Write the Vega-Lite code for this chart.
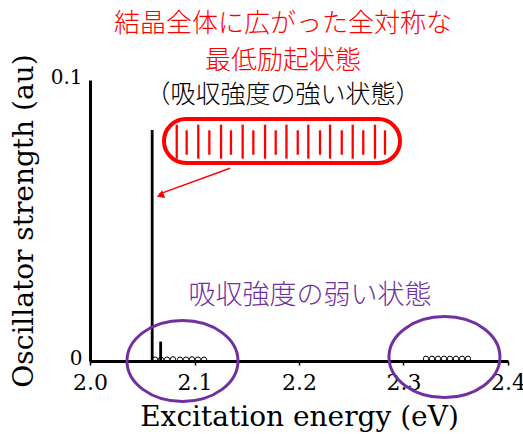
{
  "$schema": "https://vega.github.io/schema/vega-lite/v6.json",
  "width": 418,
  "height": 281,
  "autosize": {"type": "none"},
  "padding": {"left": 90, "top": 80, "right": 15, "bottom": 73},
  "background": "white",
  "config": {
    "view": {"stroke": null},
    "axis": {"grid": false, "domainColor": "black", "labelColor": "black", "titleColor": "black", "labelFont": "DejaVu Serif", "titleFont": "DejaVu Serif", "titleFontWeight": "normal"}
  },
  "datasets": {
    "sticks": [
      {"energy": 2.0595, "strength": 0.0822},
      {"energy": 2.0676, "strength": 0.0069}
    ],
    "weak": [
      {"energy": 2.0622, "strength": 0.0005},
      {"energy": 2.0679, "strength": 0.0005},
      {"energy": 2.0737, "strength": 0.0005},
      {"energy": 2.0794, "strength": 0.0006},
      {"energy": 2.0861, "strength": 0.0005},
      {"energy": 2.0919, "strength": 0.0005},
      {"energy": 2.0976, "strength": 0.0006},
      {"energy": 2.1033, "strength": 0.0005},
      {"energy": 2.1091, "strength": 0.0005},
      {"energy": 2.3215, "strength": 0.0008},
      {"energy": 2.3273, "strength": 0.0008},
      {"energy": 2.3330, "strength": 0.0008},
      {"energy": 2.3388, "strength": 0.0008},
      {"energy": 2.3445, "strength": 0.0008},
      {"energy": 2.3502, "strength": 0.0008},
      {"energy": 2.3560, "strength": 0.0008},
      {"energy": 2.3617, "strength": 0.0008}
    ],
    "capsule": [{"x1": 2.0708, "x2": 2.2967, "y1": 0.0705, "y2": 0.0861}],
    "longLines": [
      {"energy": 2.0830}, {"energy": 2.1036}, {"energy": 2.1254}, {"energy": 2.1461}, {"energy": 2.1675},
      {"energy": 2.1880}, {"energy": 2.2089}, {"energy": 2.2297}, {"energy": 2.2514}, {"energy": 2.2727}
    ],
    "shortLines": [
      {"energy": 2.0925}, {"energy": 2.1142}, {"energy": 2.1349}, {"energy": 2.1563}, {"energy": 2.1777},
      {"energy": 2.1988}, {"energy": 2.2201}, {"energy": 2.2409}, {"energy": 2.2615}, {"energy": 2.2823}
    ],
    "arrow": [{"x1": 2.1340, "y1": 0.0686, "x2": 2.0660, "y2": 0.0594}],
    "arrowHead": [{"energy": 2.0684, "strength": 0.0591}],
    "ellipses": [
      {"energy": 2.0885, "strength": 0.0},
      {"energy": 2.3392, "strength": 0.0014}
    ],
    "redText": [
      {"label": "結晶全体に広がった全対称な", "energy": 2.1847, "strength": 0.1198},
      {"label": "最低励起状態", "energy": 2.1847, "strength": 0.1068}
    ],
    "blackText": [
      {"label": "（吸収強度の強い状態）", "energy": 2.1847, "strength": 0.0945}
    ],
    "purpleText": [
      {"label": "吸収強度の弱い状態", "energy": 2.2105, "strength": 0.0231}
    ]
  },
  "layer": [
    {
      "data": {"name": "sticks"},
      "mark": {"type": "rule", "color": "black", "strokeWidth": 2.8},
      "encoding": {
        "x": {"field": "energy", "type": "quantitative", "scale": {"domain": [2.0, 2.4], "nice": false, "zero": false},
          "axis": {"values": [2.0, 2.1, 2.2, 2.3, 2.4], "format": ".1f", "title": "Excitation energy (eV)", "domainWidth": 3, "tickSize": 4, "tickWidth": 1.5, "tickColor": "black", "labelFontSize": 22, "labelPadding": 7, "titleFontSize": 28, "titlePadding": 10, "labelFlush": false}},
        "y": {"field": "strength", "type": "quantitative", "scale": {"domain": [0, 0.1], "nice": false},
          "axis": {"values": [0, 0.1], "labelExpr": "datum.value == 0 ? '0' : '0.1'", "title": "Oscillator strength (au)", "domainWidth": 3, "ticks": false, "labelFontSize": 20, "labelPadding": 8, "labelOffset": -3, "titleFontSize": 28, "titlePadding": 12, "labelFlush": false}},
        "y2": {"datum": 0}
      }
    },
    {
      "data": {"name": "weak"},
      "mark": {"type": "point", "shape": "circle", "filled": false, "color": "black", "size": 28, "strokeWidth": 1, "opacity": 1},
      "encoding": {
        "x": {"field": "energy", "type": "quantitative"},
        "y": {"field": "strength", "type": "quantitative"}
      }
    },
    {
      "data": {"name": "capsule"},
      "mark": {"type": "rect", "fill": null, "stroke": "#FF0000", "strokeWidth": 4, "cornerRadius": 22},
      "encoding": {
        "x": {"field": "x1", "type": "quantitative"},
        "x2": {"field": "x2"},
        "y": {"field": "y1", "type": "quantitative"},
        "y2": {"field": "y2"}
      }
    },
    {
      "data": {"name": "longLines"},
      "mark": {"type": "rule", "color": "#FF0000", "strokeWidth": 2.3},
      "encoding": {
        "x": {"field": "energy", "type": "quantitative"},
        "y": {"datum": 0.0720},
        "y2": {"datum": 0.0841}
      }
    },
    {
      "data": {"name": "shortLines"},
      "mark": {"type": "rule", "color": "#FF0000", "strokeWidth": 2.3},
      "encoding": {
        "x": {"field": "energy", "type": "quantitative"},
        "y": {"datum": 0.0734},
        "y2": {"datum": 0.0821}
      }
    },
    {
      "data": {"name": "arrow"},
      "mark": {"type": "rule", "color": "#FF0000", "strokeWidth": 1.5},
      "encoding": {
        "x": {"field": "x1", "type": "quantitative"},
        "y": {"field": "y1", "type": "quantitative"},
        "x2": {"field": "x2"},
        "y2": {"field": "y2"}
      }
    },
    {
      "data": {"name": "arrowHead"},
      "mark": {"type": "point", "shape": "triangle", "filled": true, "color": "#FF0000", "size": 70, "angle": 248, "opacity": 1},
      "encoding": {
        "x": {"field": "energy", "type": "quantitative"},
        "y": {"field": "strength", "type": "quantitative"}
      }
    },
    {
      "data": {"name": "ellipses"},
      "mark": {"type": "point", "shape": "M1,0C1,0.4032,0.5523,0.73,0,0.73C-0.5523,0.73,-1,0.4032,-1,0C-1,-0.4032,-0.5523,-0.73,0,-0.73C0.5523,-0.73,1,-0.4032,1,0Z", "filled": false, "color": "#7030A0", "size": 12321, "strokeWidth": 3, "opacity": 1},
      "encoding": {
        "x": {"field": "energy", "type": "quantitative"},
        "y": {"field": "strength", "type": "quantitative"}
      }
    },
    {
      "data": {"name": "redText"},
      "mark": {"type": "text", "font": "Noto Sans CJK JP", "fontWeight": 300, "fontSize": 26, "color": "#FF0000", "align": "center", "baseline": "middle"},
      "encoding": {
        "x": {"field": "energy", "type": "quantitative"},
        "y": {"field": "strength", "type": "quantitative"},
        "text": {"field": "label"}
      }
    },
    {
      "data": {"name": "blackText"},
      "mark": {"type": "text", "font": "Noto Sans CJK JP", "fontWeight": 300, "fontSize": 25, "color": "black", "align": "center", "baseline": "middle"},
      "encoding": {
        "x": {"field": "energy", "type": "quantitative"},
        "y": {"field": "strength", "type": "quantitative"},
        "text": {"field": "label"}
      }
    },
    {
      "data": {"name": "purpleText"},
      "mark": {"type": "text", "font": "Noto Sans CJK JP", "fontWeight": 300, "fontSize": 27, "color": "#7030A0", "align": "center", "baseline": "middle"},
      "encoding": {
        "x": {"field": "energy", "type": "quantitative"},
        "y": {"field": "strength", "type": "quantitative"},
        "text": {"field": "label"}
      }
    }
  ]
}
